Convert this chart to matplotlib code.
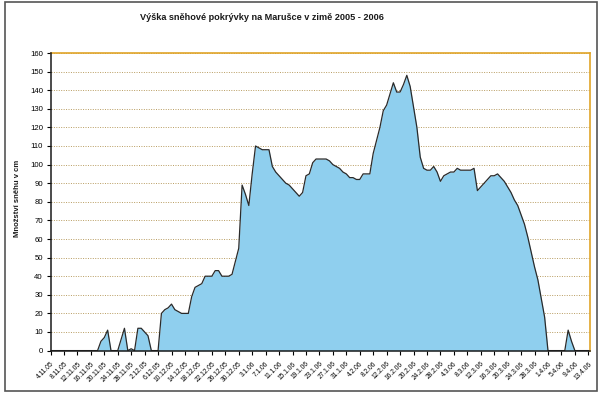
import matplotlib
matplotlib.use('Agg')
import matplotlib.pyplot as plt
from matplotlib.patches import Rectangle

title = "Výška sněhové pokrývky na Marušce v zimě 2005 - 2006"
y_label = "Množství sněhu v cm"

tick_labels = ["4.11.05", "8.11.05", "12.11.05", "16.11.05", "20.11.05", "24.11.05",
               "28.11.05", "2.12.05", "6.12.05", "10.12.05", "14.12.05", "18.12.05",
               "22.12.05", "26.12.05", "30.12.05", "3.1.06", "7.1.06", "11.1.06",
               "15.1.06", "19.1.06", "23.1.06", "27.1.06", "31.1.06", "4.2.06",
               "8.2.06", "12.2.06", "16.2.06", "20.2.06", "24.2.06", "28.2.06",
               "4.3.06", "8.3.06", "12.3.06", "16.3.06", "20.3.06", "24.3.06",
               "28.3.06", "1.4.06", "5.4.06", "9.4.06", "13.4.06"]

# daily snow depth (cm), 4.11.2005 .. 13.4.2006
snow_cm = [
    0, 0, 0, 0, 0, 0, 0, 0, 0, 0,          # d0-9
    0, 0, 0, 0, 0, 5, 7, 11, 0, 0,         # d10-19
    0, 6, 12, 0, 1, 0, 12, 12, 10, 8,      # d20-29
    0, 0, 0, 20, 22, 23, 25, 22, 21, 20,   # d30-39
    20, 20, 29, 34, 35, 36, 40, 40, 40, 43,  # d40-49
    43, 40, 40, 40, 41, 48, 55, 89, 84, 78,  # d50-59
    95, 110, 109, 108, 108, 108, 99, 96, 94, 92,  # d60-69
    90, 89, 87, 85, 83, 85, 94, 95, 101, 103,     # d70-79
    103, 103, 103, 102, 100, 99, 98, 96, 95, 93,  # d80-89
    93, 92, 92, 95, 95, 95, 106, 113, 120, 129,   # d90-99
    132, 138, 144, 139, 139, 143, 148, 142, 131, 120,  # d100-109
    104, 98, 97, 97, 99, 96, 91, 94, 95, 96,      # d110-119
    96, 98, 97, 97, 97, 97, 98, 86, 88, 90,       # d120-129
    92, 94, 94, 95, 93, 91, 88, 85, 81, 78,       # d130-139
    73, 68, 61, 53, 45, 38, 28, 18, 0, 0,         # d140-149
    0, 0, 0, 0, 11, 5, 0, 0, 0, 0,                # d150-159
    0,                                            # d160
]
days = list(range(len(snow_cm)))

plt.rcParams['font.family'] = ['Liberation Sans', 'DejaVu Sans']

W, H = 600, 399
fig = plt.figure(figsize=(W / 100, H / 100), dpi=100)
fig.patch.set_facecolor('white')

left, right, top, bottom = 50.5, 590, 53, 350.6
ax = fig.add_axes([left / W, 1 - bottom / H, (right - left) / W, (bottom - top) / H])

ax.fill_between(days, snow_cm, 0, color='#8fcfee', linewidth=0, zorder=2)
ax.plot(days, snow_cm, color='#2a2a2a', lw=0.9, zorder=3)

ax.set_xlim(0, 160.5)
ax.set_ylim(0, 160)
ax.set_yticks(range(0, 161, 10))
ax.set_xticks(range(0, 161, 4))
ax.set_xticklabels(tick_labels, rotation=45, ha='right', va='top',
                   rotation_mode='anchor', fontsize=4.8)
ax.tick_params(axis='y', labelsize=5.6, length=3, width=0.8, pad=2.5, direction='out')
ax.tick_params(axis='x', length=3, width=0.8, pad=4, direction='out')

ax.grid(axis='y', linestyle=(0, (1, 1.5)), color='#b89c60', lw=0.7, zorder=1)
ax.set_axisbelow(True)

for s in ['top', 'right']:
    ax.spines[s].set_color('#e0a428')
    ax.spines[s].set_linewidth(1.2)
for s in ['left', 'bottom']:
    ax.spines[s].set_color('#1a1a1a')
    ax.spines[s].set_linewidth(1.1)
    ax.spines[s].set_zorder(4)

fig.text(262 / W, 1 - 18 / H, title, ha='center', va='center',
         fontsize=6.6, fontweight='bold', color='#1a1a1a')
fig.text(18 / W, 1 - 198 / H, y_label, ha='center', va='center', rotation=90,
         fontsize=5.5, fontweight='bold', color='#1a1a1a')

fig.patches.append(Rectangle((5 / W, 1 - 391 / H), 592 / W, 389 / H,
                             transform=fig.transFigure, fill=False,
                             edgecolor='#555555', lw=1.2))

fig.savefig('out.png', dpi=100)
